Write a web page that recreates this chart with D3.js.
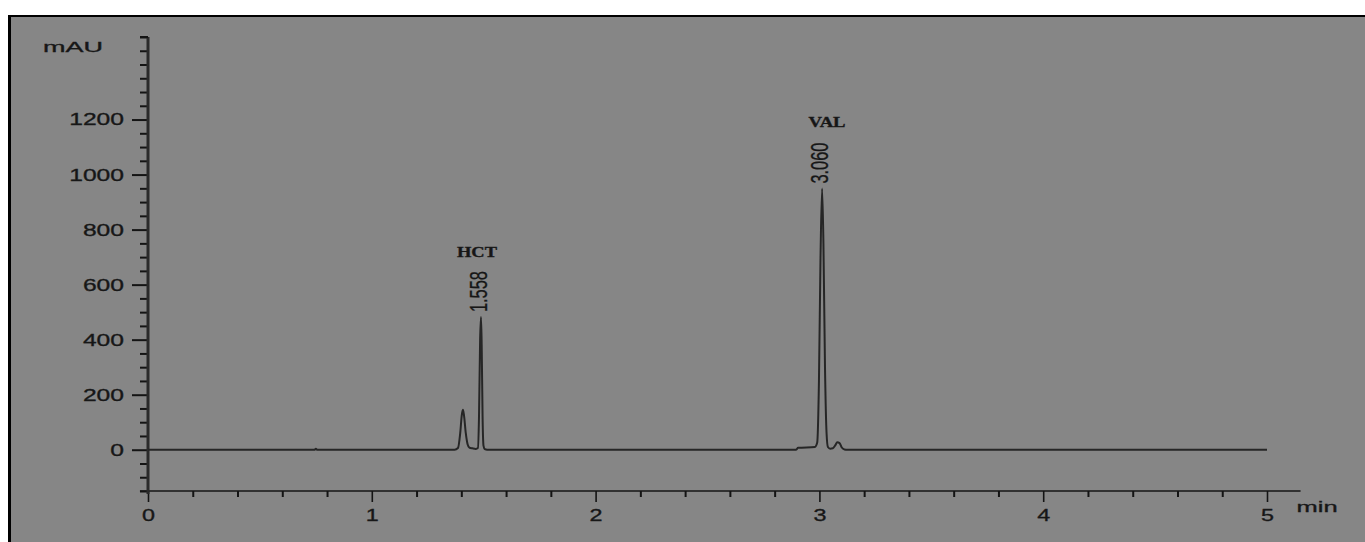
<!DOCTYPE html>
<html>
<head>
<meta charset="utf-8">
<script src="https://cdn.jsdelivr.net/npm/d3@7"></script>
<style>
  html, body { margin: 0; padding: 0; background: #ffffff; }
  svg { display: block; }
  text { stroke: #1a1a1a; stroke-width: 0.35px; }
</style>
</head>
<body>
<svg id="chart" width="1365" height="542"></svg>
<script>
// ---- data ----
const timeMin = [0, 0.745, 0.75, 0.755, 1.370, 1.385, 1.395, 1.402, 1.407, 1.412, 1.420, 1.428, 1.436, 1.450, 1.465, 1.474,
  1.479, 1.484, 1.488, 1.491, 1.495, 1.499, 1.505, 1.515,
  2.895, 2.905, 2.980, 2.990, 2.998, 3.005, 3.012, 3.018, 3.025, 3.032, 3.038, 3.048, 3.060, 3.070, 3.080, 3.090, 3.100, 3.112, 3.125, 5.0];
const signalMAU = [0, 0, 4, 0, 0, 6, 60, 125, 145, 125, 60, 20, 8, 5, 3, 6,
  120, 400, 482, 380, 120, 15, 2, 0,
  0, 7, 10, 25, 250, 700, 949, 750, 300, 60, 10, 4, 5, 15, 27, 24, 8, 1, 0, 0];

const peakNames = ["HCT", "VAL"];
const peakTimes = [1.488, 3.012];
const peakHeights = [482, 949];
const peakLabels = ["1.558", "3.060"];

const xTickValues = [0, 1, 2, 3, 4, 5];
const xMinorStep = 0.2;
const yTickValues = [0, 200, 400, 600, 800, 1000, 1200];
const yMinorStep = 50;
const xDomain = [0, 5];
const yDomain = [-150, 1500];
const xUnit = "min";
const yUnit = "mAU";

// ---- drawing ----
const svg = d3.select("#chart");
const W = 1365, H = 542;

svg.append("rect").attr("x", 8).attr("y", 15).attr("width", W - 8).attr("height", H - 15).attr("fill", "#000");
svg.append("rect").attr("x", 11).attr("y", 17).attr("width", W - 11).attr("height", H - 17).attr("fill", "#868686");

const x = d3.scaleLinear().domain(xDomain).range([148, 1267]);
const y = d3.scaleLinear().domain(yDomain).range([491, 37]);

const ink = "#141414";
const lab = "#161616";

// x axis
const xMinor = d3.range(xDomain[0], xDomain[1] + 1e-9, xMinorStep).filter(v => Math.abs(v - Math.round(v)) > 1e-6);
const gx = svg.append("g").attr("transform", `translate(0,${y(yDomain[0])})`);
gx.append("g").call(d3.axisBottom(x).tickValues(xMinor).tickSize(6).tickFormat(""))
  .call(g => g.select(".domain").remove())
  .call(g => g.selectAll("line").attr("stroke", ink).attr("stroke-width", 2));
gx.append("g").call(d3.axisBottom(x).tickValues(xTickValues).tickSize(11).tickPadding(3).tickFormat(d3.format("d")))
  .call(g => g.select(".domain").remove())
  .call(g => g.selectAll("line").attr("stroke", ink).attr("stroke-width", 1.6))
  .call(g => g.selectAll("text").attr("fill", lab).attr("font-family", "Liberation Sans, Arial, sans-serif")
      .attr("font-size", 17).attr("textLength", 13).attr("lengthAdjust", "spacingAndGlyphs")
      .attr("dy", "0.92em"));
gx.append("line").attr("x1", x(-0.036)).attr("x2", x(5.15)).attr("y1", 0).attr("y2", 0)
  .attr("stroke", ink).attr("stroke-width", 1.5);
svg.append("text").attr("x", x(5.15) - 4).attr("y", y(yDomain[0]) + 21).text(xUnit)
  .attr("fill", lab).attr("font-family", "Liberation Sans, Arial, sans-serif").attr("font-size", 15)
  .attr("textLength", 41).attr("lengthAdjust", "spacingAndGlyphs");

// y axis
const yMinor = d3.range(yDomain[0], yDomain[1] + 1e-9, yMinorStep).filter(v => v % 200 !== 0 || v > 1200);
const gy = svg.append("g").attr("transform", `translate(${x(0)},0)`);
gy.append("g").call(d3.axisLeft(y).tickValues(yMinor).tickSize(8).tickFormat(""))
  .call(g => g.select(".domain").remove())
  .call(g => g.selectAll("line").attr("stroke", ink).attr("stroke-width", 2));
gy.append("g").call(d3.axisLeft(y).tickValues(yTickValues).tickSize(16).tickPadding(8).tickFormat(d3.format("d")))
  .call(g => g.select(".domain").remove())
  .call(g => g.selectAll("line").attr("stroke", ink).attr("stroke-width", 2))
  .call(g => g.selectAll("text").attr("fill", lab).attr("font-family", "Liberation Sans, Arial, sans-serif")
      .attr("font-size", 17).each(function(d) {
        d3.select(this).attr("textLength", String(d).length * 13.7).attr("lengthAdjust", "spacingAndGlyphs");
      }));
gy.append("line").attr("x1", 0).attr("x2", 0).attr("y1", y(yDomain[1])).attr("y2", y(yDomain[0]) + 3)
  .attr("stroke", "#2a2a2a").attr("stroke-width", 3);
gy.append("line").attr("x1", -8).attr("x2", 0).attr("y1", y(yDomain[1])).attr("y2", y(yDomain[1]))
  .attr("stroke", ink).attr("stroke-width", 2);
svg.append("text").attr("x", 43).attr("y", 52).text(yUnit)
  .attr("fill", lab).attr("font-family", "Liberation Sans, Arial, sans-serif").attr("font-size", 15)
  .attr("textLength", 60).attr("lengthAdjust", "spacingAndGlyphs");

// trace
const pts = timeMin.map((t, i) => [t, signalMAU[i]]);
svg.append("path").datum(pts)
  .attr("d", d3.line().x(d => x(d[0])).y(d => y(d[1])).curve(d3.curveMonotoneX))
  .attr("fill", "none").attr("stroke", "#262626").attr("stroke-width", 2).attr("stroke-linejoin", "round");

// peak labels
peakNames.forEach((name, i) => {
  const px = x(peakTimes[i]), py = y(peakHeights[i]);
  svg.append("text")
    .attr("transform", `translate(${px + 6},${py - 5}) rotate(-90)`)
    .text(peakLabels[i])
    .attr("fill", lab).attr("font-family", "Liberation Sans, Arial, sans-serif").attr("font-size", 24)
    .attr("textLength", 41).attr("lengthAdjust", "spacingAndGlyphs");
  svg.append("text")
    .attr("x", px - 4 + (i === 1 ? 9 : 0)).attr("y", py - 60 - (i === 1 ? 2 : 0))
    .attr("text-anchor", "middle")
    .text(name)
    .attr("fill", lab).attr("font-family", "Liberation Serif, Times New Roman, serif").attr("font-weight", "bold")
    .attr("font-size", 14).attr("textLength", i === 0 ? 40 : 37).attr("lengthAdjust", "spacingAndGlyphs");
});
</script>
</body>
</html>
